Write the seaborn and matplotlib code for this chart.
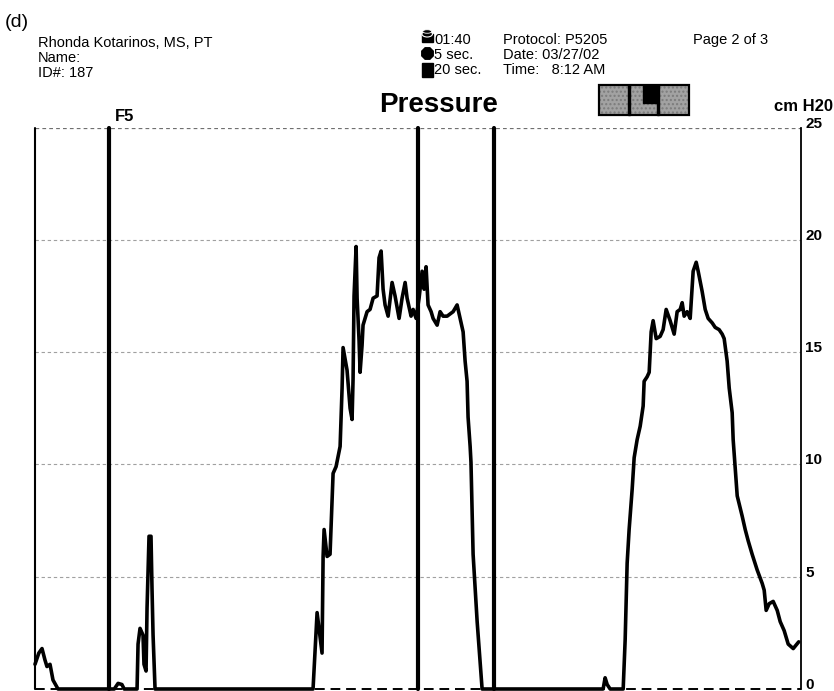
import numpy as np
import pandas as pd
import matplotlib
matplotlib.use("Agg")
import matplotlib.pyplot as plt
import seaborn as sns
from matplotlib.transforms import Affine2D
from matplotlib.patches import Rectangle, Ellipse, RegularPolygon

# ---------------- data ----------------
time_s = [
    0.0, 0.5, 0.92, 1.3, 1.57, 1.97, 2.36, 3.02,
    9.0, 10.4, 10.9, 11.4, 11.7, 13.39,
    13.52, 13.78, 14.17, 14.30, 14.57, 14.70, 14.96, 15.22, 15.35, 15.49, 15.75,
    36.48, 37.01, 37.66, 37.80, 37.93, 38.32, 38.71, 39.11, 39.50, 40.03,
    40.29, 40.42, 40.94, 41.34, 41.60, 41.73, 41.86, 42.13, 42.26, 42.52,
    42.65, 42.91, 43.04, 43.57, 43.96, 44.36, 44.88, 45.14, 45.41, 45.67,
    45.93, 46.33, 46.85, 47.24, 47.77, 48.16, 48.56, 48.82, 49.34, 49.61,
    50.00, 50.39, 50.79, 51.05, 51.31, 51.57, 51.97, 52.23, 52.76, 53.15,
    53.54, 54.07, 54.46, 54.86, 55.38, 55.77, 56.17, 56.43, 56.69, 56.82,
    57.09, 57.20, 57.48, 58.01, 58.66,
    74.54, 74.80, 75.07, 75.46, 77.17,
    77.43, 77.69, 77.95, 78.35, 78.61, 79.00, 79.40, 79.79, 79.92, 80.31,
    80.58, 80.84, 81.10, 81.50, 82.02, 82.41, 82.81, 83.33, 83.86, 84.25,
    84.65, 84.91, 85.17, 85.56, 85.96, 86.35, 86.75, 87.01, 87.53, 87.93,
    88.32, 88.85, 89.24, 89.76, 90.16, 90.42, 90.81, 91.08, 91.47, 91.60,
    91.86, 92.13, 92.78, 93.18, 93.57, 94.09, 94.75, 95.41, 95.67, 95.93,
    96.33, 96.85, 97.38, 97.77, 98.29, 98.82, 99.48, 100.2,
]
pressure_cmh2o = [
    1.1, 1.6, 1.8, 1.3, 1.0, 1.1, 0.4, 0.0,
    0.0, 0.0, 0.25, 0.2, 0.0, 0.0,
    2.0, 2.7, 2.4, 1.1, 0.8, 3.6, 6.8, 6.8, 4.5, 2.4, 0.0,
    0.0, 3.4, 1.6, 5.9, 7.1, 5.9, 6.0, 9.6, 9.9, 10.8,
    13.4, 15.2, 14.2, 12.5, 12.0, 13.8, 17.5, 19.7, 17.4, 15.5,
    14.1, 15.3, 16.2, 16.8, 16.9, 17.4, 17.5, 19.2, 19.5, 17.8,
    17.1, 16.6, 18.1, 17.5, 16.5, 17.4, 18.1, 17.4, 16.6, 16.9,
    16.5, 17.4, 18.6, 17.8, 18.8, 17.1, 16.8, 16.5, 16.2, 16.8,
    16.6, 16.6, 16.7, 16.8, 17.1, 16.5, 15.9, 14.6, 13.7, 12.1,
    10.8, 10.1, 6.0, 3.0, 0.0,
    0.0, 0.5, 0.2, 0.0, 0.0,
    2.2, 5.6, 7.1, 8.9, 10.3, 11.1, 11.7, 12.6, 13.7, 13.9,
    14.1, 15.9, 16.4, 15.6, 15.7, 16.0, 16.9, 16.4, 15.8, 16.8,
    16.9, 17.2, 16.6, 16.8, 16.5, 18.6, 19.0, 18.6, 17.7, 16.9,
    16.5, 16.3, 16.1, 16.0, 15.8, 15.6, 14.6, 13.4, 12.3, 11.1,
    9.9, 8.6, 7.7, 7.1, 6.6, 6.0, 5.3, 4.7, 4.4, 3.5,
    3.8, 3.9, 3.5, 3.0, 2.6, 2.0, 1.8, 2.1,
]
event_times = [0.0, 9.7, 50.3, 60.2]
event_widths = [1.5, 3.0, 3.0, 3.0]
y_ticks = [0, 5, 10, 15, 20, 25]
y_tick_labels = ["0", "5", "10", "15", "20", "25"]

df = pd.DataFrame({"time": time_s, "pressure": pressure_cmh2o})

# ---------------- figure ----------------
sns.set_style("white")
plt.rcParams["font.family"] = ["Liberation Sans", "DejaVu Sans"]
plt.rcParams["text.color"] = "black"
plt.rcParams["ytick.color"] = "black"
plt.rcParams["ytick.labelcolor"] = "black"

W, H = 834, 691
fig = plt.figure(figsize=(W / 100, H / 100), dpi=100)
PX = Affine2D().scale(1 / 100, -1 / 100).translate(0, H / 100) + fig.dpi_scale_trans

ax_left, ax_right, ax_top, ax_bot = 35, 801, 127.5, 689
ax = fig.add_axes([ax_left / W, 1 - ax_bot / H,
                   (ax_right - ax_left) / W, (ax_bot - ax_top) / H])

sns.lineplot(data=df, x="time", y="pressure", ax=ax, color="black",
             linewidth=2.6, sort=False, zorder=4)
for ln in ax.lines:
    ln.set_clip_on(False)

for t, w in zip(event_times, event_widths):
    ax.axvline(t, color="black", linewidth=w, zorder=5, clip_on=False)

ax.set_xlim(0, 100.5)
ax.set_ylim(0, 25)
ax.set_xticks([])
ax.set_xlabel("")
ax.set_ylabel("")

for s in ["left", "top", "bottom"]:
    ax.spines[s].set_visible(False)
ax.spines["right"].set_visible(True)
ax.spines["right"].set_color("black")
ax.spines["right"].set_linewidth(1.3)

ax.set_yticks(y_ticks)
ax.set_yticklabels(y_tick_labels)
ax.tick_params(axis="y", left=False, right=False, labelleft=False,
               labelright=True, length=0, pad=3, labelsize=11,
               labelcolor="black")
for lab in ax.get_yticklabels():
    lab.set_fontweight("bold")
    lab.set_va("baseline")

ax.set_axisbelow(True)
ax.yaxis.grid(True)
for v, gl in zip(y_ticks, ax.get_ygridlines()):
    if v == 0:
        gl.set_visible(False)
    elif v == 25:
        gl.set_color("#707070")
        gl.set_linewidth(0.9)
        gl.set_dashes((3, 2.5))
    else:
        gl.set_color("#a0a0a0")
        gl.set_linewidth(0.8)
        gl.set_dashes((3, 2.5))
ax.axhline(0, color="black", linewidth=1.4, dashes=(5, 3), zorder=1, clip_on=False)

# ---------------- header texts ----------------
fig.text(5, 27, "(d)", transform=PX, fontsize=14, va="baseline")
for i, s in enumerate(["Rhonda Kotarinos, MS, PT", "Name:", "ID#: 187"]):
    fig.text(38, 47 + 15 * i, s, transform=PX, fontsize=10.5, va="baseline")
for i, s in enumerate(["01:40", "5 sec.", "20 sec."]):
    fig.text(434, 44 + 15 * i, s, transform=PX, fontsize=10.5, va="baseline")
fig.text(503, 44, "Protocol: P5205", transform=PX, fontsize=10.5, va="baseline")
fig.text(503, 59, "Date: 03/27/02", transform=PX, fontsize=10.5, va="baseline")
fig.text(503, 74, "Time:   8:12 AM", transform=PX, fontsize=10.5, va="baseline")
fig.text(693, 44, "Page 2 of 3", transform=PX, fontsize=10.5, va="baseline")

fig.text(439, 112, "Pressure", transform=PX, fontsize=20, fontweight="bold",
         ha="center", va="baseline")
fig.text(115, 121, "F5", transform=PX, fontsize=12, fontweight="bold", va="baseline")
fig.text(833, 111, "cm H20", transform=PX, fontsize=12, fontweight="bold",
         ha="right", va="baseline")

# icons
fig.add_artist(Rectangle((422, 34), 10.5, 8, transform=PX, color="black"))
fig.add_artist(Ellipse((427.2, 34), 10.5, 6, transform=PX, facecolor="black",
                       edgecolor="white", linewidth=0.8))
fig.add_artist(Ellipse((427.2, 31.5), 9, 3.5, transform=PX, facecolor="black",
                       edgecolor="white", linewidth=0.6))
fig.add_artist(RegularPolygon((427.5, 53.5), numVertices=8, radius=6.2,
                              orientation=np.pi / 8, transform=PX, color="black"))
fig.add_artist(Rectangle((422, 63), 10.5, 14, transform=PX, color="black"))

# navigation box
bx0, bx1, by0, by1 = 599, 689, 85, 115
fig.add_artist(Rectangle((bx0, by0), bx1 - bx0, by1 - by0, transform=PX,
                         facecolor="#a2a2a2", edgecolor="#7c7c7c",
                         hatch="....", linewidth=0))
fig.add_artist(Rectangle((643, by0), 15, 18, transform=PX, color="black"))
fig.add_artist(Rectangle((bx0, by0), bx1 - bx0, by1 - by0, transform=PX,
                         facecolor="none", edgecolor="black", linewidth=1.6))
for xd in [629, 658]:
    fig.add_artist(Rectangle((xd - 0.6, by0), 1.2, by1 - by0, transform=PX,
                             color="black"))

fig.savefig("out.png", dpi=100)
